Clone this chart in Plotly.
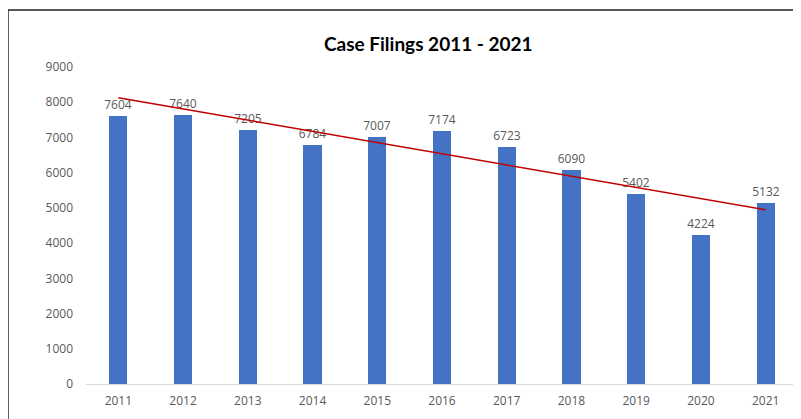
import plotly.graph_objects as go

years = [2011, 2012, 2013, 2014, 2015, 2016, 2017, 2018, 2019, 2020, 2021]
filings = [7604, 7640, 7205, 6784, 7007, 7174, 6723, 6090, 5402, 4224, 5132]
trend_years = [2011, 2021]
trend_values = [8130, 4945]
y_ticks = [0, 1000, 2000, 3000, 4000, 5000, 6000, 7000, 8000, 9000]

fig = go.Figure()
fig.add_trace(go.Bar(
    x=years, y=filings, width=0.28,
    marker=dict(color="#4472C4", line=dict(width=0)),
    text=[str(v) for v in filings], textposition="outside", constraintext="none",
    textfont=dict(family="Open Sans", size=12, color="#595959"),
    cliponaxis=False, showlegend=False,
))
fig.add_trace(go.Scatter(
    x=trend_years, y=trend_values, mode="lines",
    line=dict(color="#C00000", width=1.5), showlegend=False,
))

fig.update_layout(
    width=793, height=411,
    margin=dict(l=78, r=3, t=59, b=35),
    paper_bgcolor="white", plot_bgcolor="white",
    title=dict(text="<b>Case Filings 2011 - 2021</b>", x=0.53, xanchor="center",
               y=0.912, yanchor="middle",
               font=dict(family="Lato", size=19, color="#000000")),
    xaxis=dict(range=[2010.5, 2021.5], tickvals=years, ticktext=[str(y) for y in years],
               showgrid=False, showline=True, linecolor="#D9D9D9", linewidth=1,
               ticks="", zeroline=False, ticklabelstandoff=6,
               tickfont=dict(family="Open Sans", size=12, color="#595959")),
    yaxis=dict(range=[0, 9000], tickvals=y_ticks, showgrid=False, zeroline=False,
               showline=False, ticks="", ticklabelstandoff=12,
               tickfont=dict(family="Open Sans", size=12, color="#595959")),
    bargap=0,
)
fig.add_shape(type="rect", xref="paper", yref="paper",
              x0=-0.1096, x1=1.2, y0=-0.3, y1=1.18,
              line=dict(color="#222222", width=1.5), fillcolor="rgba(0,0,0,0)", layer="above")

fig.write_html("out.html")
